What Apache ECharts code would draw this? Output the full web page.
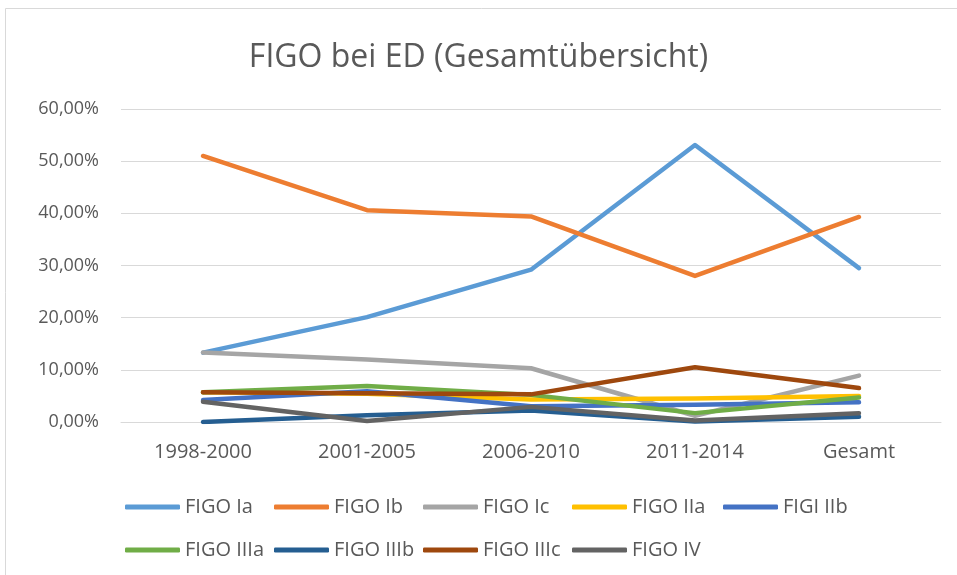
<!DOCTYPE html>
<html>
<head>
<meta charset="utf-8">
<script src="https://cdn.jsdelivr.net/npm/echarts@6/dist/echarts.min.js"></script>
<style>
  html, body { margin: 0; padding: 0; background: #fff; }
  #chart { width: 957px; height: 575px; }
</style>
</head>
<body>
<div id="chart"></div>
<script>
// Zeiträume
const categories = ['1998-2000', '2001-2005', '2006-2010', '2011-2014', 'Gesamt'];
// Anteile in %
const figoIa   = [13.3, 20.1, 29.2, 53.1, 29.5];
const figoIb   = [51.0, 40.6, 39.4, 28.0, 39.3];
const figoIc   = [13.3, 12.0, 10.3, 1.2, 8.9];
const figoIIa  = [5.7, 5.4, 4.3, 4.5, 5.0];
const figoIIb  = [4.2, 5.9, 3.0, 3.3, 3.8];
const figoIIIa = [5.7, 6.9, 5.2, 1.7, 4.7];
const figoIIIb = [0.0, 1.3, 2.2, 0.1, 1.0];
const figoIIIc = [5.7, 5.5, 5.3, 10.5, 6.5];
const figoIV   = [3.9, 0.2, 2.9, 0.3, 1.7];

const seriesNames = ['FIGO Ia', 'FIGO Ib', 'FIGO Ic', 'FIGO IIa', 'FIGI IIb', 'FIGO IIIa', 'FIGO IIIb', 'FIGO IIIc', 'FIGO IV'];
const seriesData = [figoIa, figoIb, figoIc, figoIIa, figoIIb, figoIIIa, figoIIIb, figoIIIc, figoIV];
const colors = ['#5B9BD5', '#ED7D31', '#A5A5A5', '#FFC000', '#4472C4', '#70AD47', '#255E91', '#9E480E', '#636363'];
const yTicks = [0, 10, 20, 30, 40, 50, 60];

const font = '"Open Sans", "Noto Sans", sans-serif';
const textColor = '#595959';

// Legende: 5 Spalten pro Zeile, wie in Excel
const colX = [125, 274, 423, 572, 723];
const rowY = [497, 540];
const legends = seriesNames.map((name, i) => ({
  data: [name],
  left: colX[i % 5],
  top: rowY[Math.floor(i / 5)],
  icon: 'roundRect',
  itemWidth: 55,
  itemHeight: 5,
  itemGap: 0,
  padding: 0,
  textStyle: { fontFamily: font, fontSize: 20, color: textColor }
}));

const chart = echarts.init(document.getElementById('chart'), null, { renderer: 'canvas' });
chart.setOption({
  animation: false,
  color: colors,
  title: {
    text: 'FIGO bei ED (Gesamtübersicht)',
    left: 'center',
    top: 37,
    textStyle: { fontFamily: font, fontSize: 32, fontWeight: 'normal', color: textColor }
  },
  graphic: [{
    type: 'rect',
    shape: { x: 5.5, y: 8.5, width: 1000, height: 1000 },
    style: { fill: 'none', stroke: '#D9D9D9', lineWidth: 1 },
    silent: true
  }],
  legend: legends,
  grid: { left: 121, right: 16, top: 109, bottom: 153 },
  xAxis: {
    type: 'category',
    data: categories,
    boundaryGap: true,
    axisLine: { lineStyle: { color: '#D9D9D9', width: 1 } },
    axisTick: { show: false },
    axisLabel: { fontFamily: font, fontSize: 20, color: textColor, margin: 20 }
  },
  yAxis: {
    type: 'value',
    min: yTicks[0],
    max: yTicks[yTicks.length - 1],
    interval: 10,
    axisLine: { show: false },
    axisTick: { show: false },
    splitLine: { lineStyle: { color: '#D9D9D9', width: 1 } },
    axisLabel: {
      fontFamily: font, fontSize: 18, color: textColor, margin: 22,
      formatter: v => v.toFixed(2).replace('.', ',') + '%'
    }
  },
  series: seriesNames.map((name, i) => ({
    name: name,
    type: 'line',
    data: seriesData[i],
    symbol: 'none',
    lineStyle: { width: 4.5, cap: 'round', join: 'round' }
  }))
});
</script>
</body>
</html>
